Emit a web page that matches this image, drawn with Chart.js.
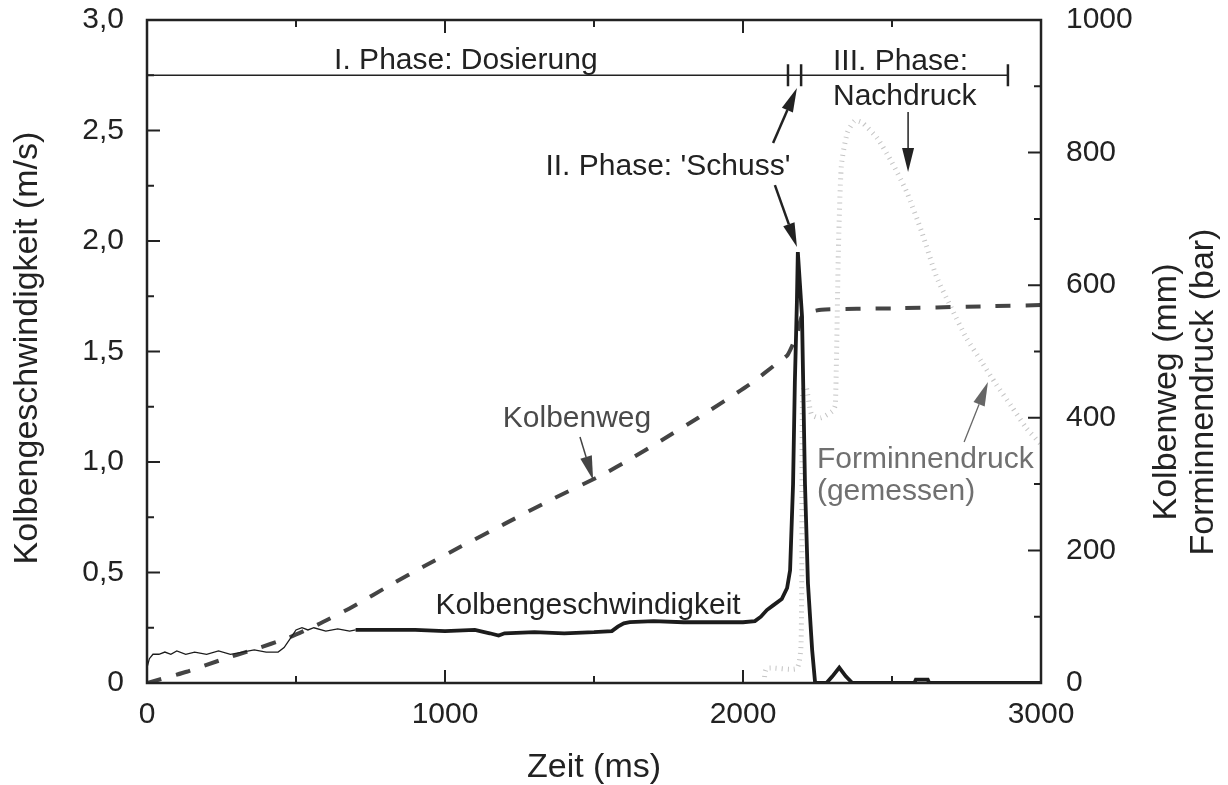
<!DOCTYPE html>
<html>
<head>
<meta charset="utf-8">
<script src="https://cdn.jsdelivr.net/npm/chart.js@4.4.1/dist/chart.umd.min.js"></script>
<style>
  html, body { margin: 0; padding: 0; background: #fff; }
  #wrap { width: 1228px; height: 785px; position: relative; }
</style>
</head>
<body>
<div id="wrap"><canvas id="chart"></canvas></div>
<script>
// Kolbengeschwindigkeit (m/s), left axis
const speedTime = [0, 8, 20, 40, 60, 80, 100, 130, 160, 200, 240, 280, 320, 360, 400, 440, 460, 480, 500, 520, 540, 560, 600, 640, 680, 700,
  800, 900, 1000, 1100, 1150, 1180, 1200, 1300, 1400, 1500, 1560, 1580, 1600, 1620, 1700, 1800, 1900, 2000, 2040, 2060, 2080, 2100, 2130,
  2148, 2158, 2168, 2174, 2181, 2184, 2198, 2208, 2218, 2232, 2242, 2280, 2300, 2323, 2345, 2367, 2575, 2580, 2620, 2625, 3000];
const speedValues = [0.07, 0.11, 0.13, 0.13, 0.14, 0.13, 0.145, 0.13, 0.14, 0.13, 0.145, 0.13, 0.14, 0.15, 0.14, 0.14, 0.16, 0.2, 0.24, 0.25, 0.24, 0.25, 0.235, 0.245, 0.235, 0.24,
  0.24, 0.24, 0.235, 0.24, 0.225, 0.215, 0.225, 0.23, 0.225, 0.23, 0.235, 0.255, 0.27, 0.275, 0.28, 0.275, 0.275, 0.275, 0.28, 0.3, 0.33, 0.35, 0.38,
  0.43, 0.51, 0.9, 1.36, 1.73, 1.95, 1.66, 0.9, 0.45, 0.15, 0, 0, 0.03, 0.07, 0.03, 0, 0, 0.015, 0.015, 0, 0];

// Kolbenweg (mm), right axis
const wegTime = [0, 133, 250, 355, 473, 573, 690, 825, 925, 1050, 1200, 1350, 1528, 1619, 1730, 1850, 2021, 2122, 2150, 2183, 2200, 2263, 2500, 2800, 3000];
const wegValues = [0, 17, 35, 50, 68, 88, 115, 150, 175, 205, 240, 275, 314, 337, 367, 400, 450, 485, 495, 528, 555, 563, 565, 568, 570];

// Forminnendruck gemessen (bar), right axis
const druckTime = [2070, 2080, 2180, 2195, 2200, 2212, 2230, 2260, 2300, 2310, 2320, 2330, 2350, 2375, 2400, 2450, 2500, 2550, 2600, 2650, 2700, 2750, 2800, 2850, 2900, 2950, 3000];
const druckValues = [0, 22, 22, 60, 440, 446, 405, 400, 410, 420, 650, 780, 830, 848, 845, 822, 785, 740, 680, 612, 565, 520, 485, 450, 418, 385, 360];

const xTicks = [0, 1000, 2000, 3000];
const speedTicks = [0, 0.5, 1, 1.5, 2, 2.5, 3];
const rightTicks = [0, 200, 400, 600, 800, 1000];

const FONT = "'Liberation Sans', Arial, Helvetica, sans-serif";
const INK = "#222";

const pts = (xs, ys) => xs.map((x, i) => ({ x: x, y: ys[i] }));

// annotation texts and arrows, in data units (ms / m/s)
const labels = [
  { text: "I. Phase: Dosierung", x: 1070, y: 2.778, align: "center", color: INK },
  { text: "III. Phase:", x: 2302, y: 2.774, align: "left", color: INK },
  { text: "Nachdruck", x: 2302, y: 2.615, align: "left", color: INK },
  { text: "II. Phase: 'Schuss'", x: 1748, y: 2.299, align: "center", color: INK },
  { text: "Kolbenweg", x: 1443, y: 1.158, align: "center", color: "#4a4a4a" },
  { text: "Kolbengeschwindigkeit", x: 1480, y: 0.312, align: "center", color: INK },
  { text: "Forminnendruck", x: 2248, y: 0.973, align: "left", color: "#707070" },
  { text: "(gemessen)", x: 2248, y: 0.828, align: "left", color: "#707070" }
];
const arrows = [
  { from: [2101, 2.443], to: [2181, 2.692], color: INK, width: 2.5 },
  { from: [2107, 2.253], to: [2181, 1.973], color: INK, width: 2.5 },
  { from: [2554, 2.584], to: [2554, 2.312], color: INK, width: 1.5 },
  { from: [1453, 1.113], to: [1497, 0.919], color: "#444", width: 1.5 },
  { from: [2742, 1.090], to: [2822, 1.362], color: "#666", width: 1.3 }
];
const phaseLine = { y: 2.75, start: 0, end: 2889, bars: [2151, 2195, 2889] };

function drawArrow(ctx, x1, y1, x2, y2, color, width) {
  const ang = Math.atan2(y2 - y1, x2 - x1);
  const len = 24, half = 6;
  const bx = x2 - len * Math.cos(ang), by = y2 - len * Math.sin(ang);
  ctx.strokeStyle = color;
  ctx.fillStyle = color;
  ctx.lineWidth = width;
  ctx.beginPath();
  ctx.moveTo(x1, y1);
  ctx.lineTo(bx, by);
  ctx.stroke();
  ctx.beginPath();
  ctx.moveTo(x2, y2);
  ctx.lineTo(bx + half * Math.sin(ang), by - half * Math.cos(ang));
  ctx.lineTo(bx - half * Math.sin(ang), by + half * Math.cos(ang));
  ctx.closePath();
  ctx.fill();
}

// frame with inward ticks, axis titles and the annotations
const framePlugin = {
  id: "frame",
  afterDatasetsDraw(chart) {
    const { ctx, chartArea: a, scales } = chart;
    const x = scales.x, y = scales.y, y1 = scales.y1;
    ctx.save();
    ctx.strokeStyle = INK;
    ctx.lineWidth = 2.5;
    ctx.strokeRect(a.left, a.top, a.right - a.left, a.bottom - a.top);

    ctx.lineWidth = 2;
    ctx.beginPath();
    for (let v = 0; v <= 3000; v += 500) {
      const px = x.getPixelForValue(v);
      const l = v % 1000 === 0 ? 13 : 7;
      ctx.moveTo(px, a.bottom); ctx.lineTo(px, a.bottom - l);
      ctx.moveTo(px, a.top); ctx.lineTo(px, a.top + l);
    }
    for (let i = 0; i <= 12; i++) {
      const py = y.getPixelForValue(i * 0.25);
      const l = i % 2 === 0 ? 13 : 7;
      ctx.moveTo(a.left, py); ctx.lineTo(a.left + l, py);
    }
    for (let v = 0; v <= 1000; v += 100) {
      const py = y1.getPixelForValue(v);
      const l = v % 200 === 0 ? 13 : 7;
      ctx.moveTo(a.right, py); ctx.lineTo(a.right - l, py);
    }
    ctx.stroke();

    // phase bar
    const py = y.getPixelForValue(phaseLine.y);
    ctx.lineWidth = 1.3;
    ctx.beginPath();
    ctx.moveTo(x.getPixelForValue(phaseLine.start), py);
    ctx.lineTo(x.getPixelForValue(phaseLine.end), py);
    ctx.stroke();
    ctx.lineWidth = 2.5;
    ctx.beginPath();
    phaseLine.bars.forEach(b => {
      const px = x.getPixelForValue(b);
      ctx.moveTo(px, py - 11); ctx.lineTo(px, py + 11);
    });
    ctx.stroke();

    ctx.font = "30px " + FONT;
    ctx.textBaseline = "alphabetic";
    labels.forEach(l => {
      ctx.fillStyle = l.color;
      ctx.textAlign = l.align;
      ctx.fillText(l.text, x.getPixelForValue(l.x), y.getPixelForValue(l.y));
    });
    arrows.forEach(r => {
      drawArrow(ctx, x.getPixelForValue(r.from[0]), y.getPixelForValue(r.from[1]),
        x.getPixelForValue(r.to[0]), y.getPixelForValue(r.to[1]), r.color, r.width);
    });

    // axis titles
    ctx.fillStyle = INK;
    ctx.font = "34px " + FONT;
    ctx.textAlign = "center";
    ctx.fillText("Zeit (ms)", (a.left + a.right) / 2, 777);
    const titleV = (text, bx, cy) => {
      ctx.save();
      ctx.translate(bx, cy);
      ctx.rotate(-Math.PI / 2);
      ctx.fillText(text, 0, 0);
      ctx.restore();
    };
    titleV("Kolbengeschwindigkeit (m/s)", 37, 348);
    titleV("Kolbenweg (mm)", 1176, 392);
    titleV("Forminnendruck (bar)", 1213, 392);
    ctx.restore();
  }
};

const tickFont = { family: FONT, size: 30 };
// pin the scale boxes so the plot area sits where the original has it
const fitV = w => s => { s.width = w; s.paddingTop = 0; s.paddingBottom = 0; };

new Chart(document.getElementById("chart"), {
  type: "line",
  data: {
    datasets: [
      {
        label: "Kolbengeschwindigkeit",
        data: pts(speedTime, speedValues),
        yAxisID: "y",
        borderColor: "#1c1c1c",
        borderWidth: 3.5,
        pointRadius: 0,
        tension: 0,
        segment: { borderWidth: c => (c.p0.parsed.x < 690 ? 1.3 : 3.8) }
      },
      {
        label: "Kolbenweg",
        data: pts(wegTime, wegValues),
        yAxisID: "y1",
        borderColor: "#444",
        borderWidth: 4,
        borderDash: [15, 15],
        pointRadius: 0,
        tension: 0.2
      },
      {
        label: "Forminnendruck",
        data: pts(druckTime, druckValues),
        yAxisID: "y1",
        borderColor: "#c4c4c4",
        borderWidth: 5,
        borderDash: [1, 5],
        pointRadius: 0,
        tension: 0.2
      }
    ]
  },
  options: {
    responsive: true,
    maintainAspectRatio: false,
    animation: false,
    events: [],
    layout: { padding: { top: 20, left: 0, right: 0, bottom: 0 } },
    plugins: { legend: { display: false }, tooltip: { enabled: false } },
    scales: {
      x: {
        type: "linear",
        min: 0, max: 3000,
        grid: { display: false },
        border: { display: false },
        afterBuildTicks: s => { s.ticks = xTicks.map(v => ({ value: v })); },
        ticks: { font: tickFont, color: INK, padding: 6, maxRotation: 0, callback: v => String(v) },
        afterFit: s => { s.height = 102; s.paddingLeft = 0; s.paddingRight = 0; }
      },
      y: {
        position: "left",
        min: 0, max: 3,
        grid: { display: false },
        border: { display: false },
        afterBuildTicks: s => { s.ticks = speedTicks.map(v => ({ value: v })); },
        ticks: { font: tickFont, color: INK, padding: 15, callback: v => (v === 0 ? "0" : v.toFixed(1).replace(".", ",")) },
        afterFit: fitV(147)
      },
      y1: {
        position: "right",
        min: 0, max: 1000,
        grid: { display: false },
        border: { display: false },
        afterBuildTicks: s => { s.ticks = rightTicks.map(v => ({ value: v })); },
        ticks: { font: tickFont, color: INK, padding: 17, callback: v => String(v) },
        afterFit: fitV(187)
      }
    }
  },
  plugins: [framePlugin]
});
</script>
</body>
</html>
